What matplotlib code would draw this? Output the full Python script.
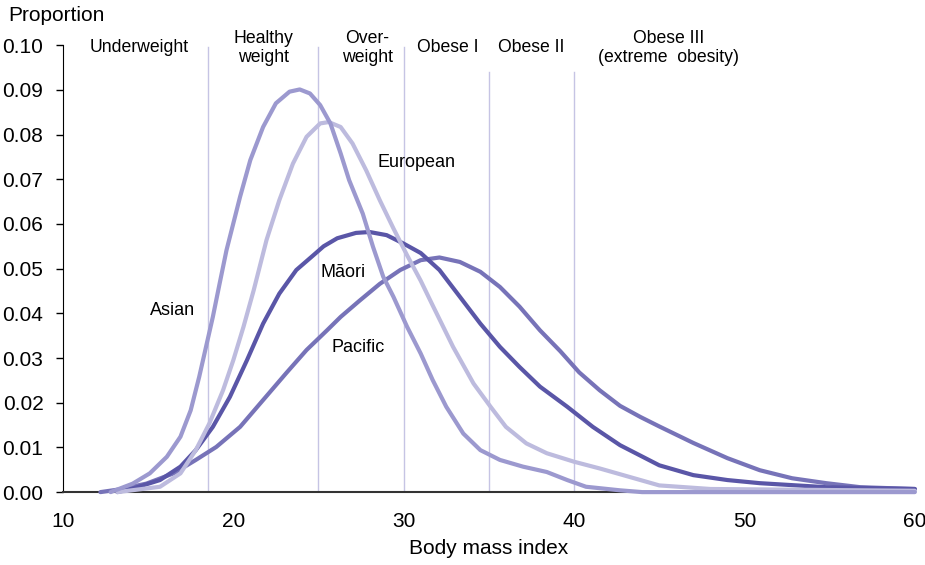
import matplotlib.pyplot as plt

plt.rcParams['font.family'] = ['Liberation Sans', 'DejaVu Sans']

# BMI distributions
asian_x = [12.8, 14.1, 15.1, 16.1, 16.9, 17.5, 18.0, 18.4, 18.8, 19.2, 19.6, 20.4, 21.0, 21.75,
           22.5, 23.3, 23.9, 24.5, 25.1, 25.7, 26.3, 26.8, 27.6, 28.2, 28.8, 29.4, 30.2, 31.0,
           31.7, 32.5, 33.5, 34.5, 35.65, 37.0, 38.4, 39.6, 40.7, 42.7, 44.0, 60.0]
asian_y = [0.0, 0.0019, 0.0042, 0.0079, 0.0124, 0.0183, 0.0258, 0.0325, 0.0392, 0.0467, 0.0541,
           0.0661, 0.0743, 0.0817, 0.0870, 0.0896, 0.0901, 0.0892, 0.0866, 0.0825, 0.0758,
           0.0698, 0.0623, 0.0549, 0.0482, 0.0437, 0.0370, 0.0310, 0.0251, 0.0191, 0.0131,
           0.0094, 0.0072, 0.0057, 0.0045, 0.0027, 0.0012, 0.0004, 0.0, 0.0]

european_x = [13.2, 15.7, 16.9, 17.8, 18.6, 19.4, 20.0, 20.6, 21.2, 21.95, 22.7, 23.5, 24.3, 25.1,
              25.6, 26.3, 27.0, 27.8, 28.6, 29.4, 30.2, 31.0, 31.7, 32.9, 34.1, 35.1, 36.0,
              37.2, 38.4, 40.0, 41.5, 42.7, 45.0, 48.0, 60.0]
european_y = [0.0, 0.0012, 0.0042, 0.0094, 0.0154, 0.0228, 0.0295, 0.0370, 0.0452, 0.0564,
              0.0653, 0.0735, 0.0795, 0.0825, 0.0828, 0.0817, 0.0780, 0.0720, 0.0653, 0.0590,
              0.0530, 0.0473, 0.0418, 0.0325, 0.0243, 0.0191, 0.0146, 0.0109, 0.0087, 0.0068,
              0.0053, 0.0040, 0.0015, 0.0007, 0.0003]

maori_x = [13.2, 14.1, 15.7, 16.9, 17.8, 18.8, 19.8, 20.8, 21.75, 22.7, 23.7, 24.7, 25.3, 26.1,
           27.2, 28.0, 29.0, 30.0, 31.0, 32.1, 33.3, 34.5, 35.65, 36.8, 38.0, 39.6, 41.1, 42.7,
           45.0, 47.0, 49.0, 50.9, 54.8, 60.0]
maori_y = [0.0, 0.0008, 0.0027, 0.0057, 0.0094, 0.0146, 0.0213, 0.0295, 0.0377, 0.0444, 0.0497,
           0.0530, 0.0550, 0.0568, 0.0580, 0.0582, 0.0575, 0.0556, 0.0535, 0.0497, 0.0437,
           0.0377, 0.0325, 0.0280, 0.0236, 0.0191, 0.0146, 0.0105, 0.0060, 0.0038, 0.0027,
           0.0020, 0.0011, 0.0007]

pacific_x = [12.2, 13.3, 14.9, 16.5, 17.8, 19.0, 20.4, 21.75, 23.1, 24.3, 25.5, 26.3, 27.4, 28.6,
             29.8, 31.0, 32.1, 33.3, 34.5, 35.65, 36.8, 38.0, 39.2, 40.3, 41.5, 42.7, 43.9, 45.0,
             47.0, 49.0, 50.9, 52.8, 54.8, 56.8, 60.0]
pacific_y = [0.0, 0.0006, 0.0019, 0.0042, 0.0072, 0.0101, 0.0146, 0.0206, 0.0266, 0.0318, 0.0362,
             0.0392, 0.0428, 0.0466, 0.0497, 0.0519, 0.0525, 0.0515, 0.0493, 0.0459, 0.0415,
             0.0362, 0.0315, 0.0268, 0.0228, 0.0193, 0.0168, 0.0147, 0.0110, 0.0076, 0.0049,
             0.0031, 0.0020, 0.0011, 0.0007]

cutoffs = [18.5, 25, 30, 35, 40]
cutoff_tops = [0.0995, 0.0995, 0.0995, 0.094, 0.094]

categories = ["Underweight", "Healthy\nweight", "Over-\nweight", "Obese I", "Obese II",
              "Obese III\n(extreme  obesity)"]
category_x = [14.46, 21.77, 27.87, 32.6, 37.5, 45.56]
category_y = [0.0994, 0.0994, 0.0994, 0.0994, 0.0994, 0.0994]

fig = plt.figure(figsize=(9.25, 5.65), dpi=100)
ax = fig.add_axes([0.068, 0.129, 0.921, 0.791])

for c, top in zip(cutoffs, cutoff_tops):
    ax.plot([c, c], [0, top], color="#C6C4E4", linewidth=1, zorder=1)

line_kw = dict(linewidth=3, solid_capstyle="round", solid_joinstyle="round", zorder=3,
               clip_on=False)
ax.plot(pacific_x, pacific_y, color="#7773B8", **line_kw)
ax.plot(maori_x, maori_y, color="#5A56A7", **line_kw)
ax.plot(european_x, european_y, color="#BDBBDE", **line_kw)
ax.plot(asian_x, asian_y, color="#9C99CF", **line_kw)

ax.text(28.49, 0.0738, "European", fontsize=13, va="center")
ax.text(25.14, 0.0492, "Māori", fontsize=13, va="center")
ax.text(15.1, 0.0407, "Asian", fontsize=13, va="center")
ax.text(25.79, 0.0324, "Pacific", fontsize=13, va="center")

for label, cx, cy in zip(categories, category_x, category_y):
    ax.text(cx, cy, label, fontsize=12.7, ha="center", va="center", linespacing=1.15)

ax.set_xlim(10, 60)
ax.set_ylim(0, 0.10)
ax.set_xticks([10, 20, 30, 40, 50, 60])
ax.set_yticks([i / 100 for i in range(11)])
ax.set_yticklabels(["%.2f" % (i / 100) for i in range(11)])
ax.tick_params(axis="x", length=0, pad=14, labelsize=15)
ax.tick_params(axis="y", length=5, width=1, pad=9, labelsize=15, direction="out")

ax.spines["top"].set_visible(False)
ax.spines["right"].set_visible(False)
ax.spines["left"].set_color("black")
ax.spines["bottom"].set_color("#333333")
ax.spines["bottom"].set_linewidth(1.5)

ax.set_xlabel("Body mass index", fontsize=15, labelpad=6)
fig.text(0.009, 0.973, "Proportion", fontsize=15, va="center")

plt.savefig("out.png", dpi=100)
